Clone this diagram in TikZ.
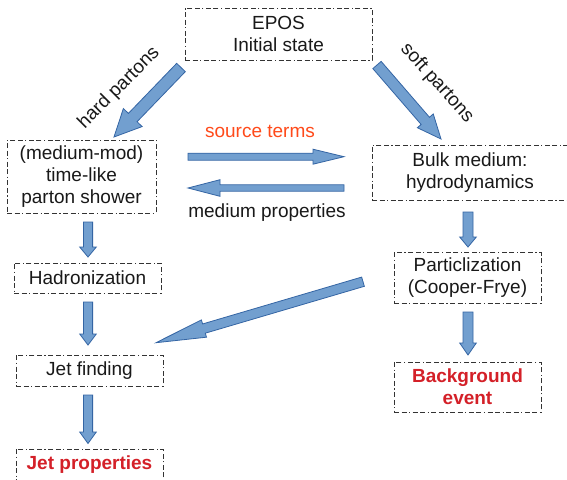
\documentclass[tikz,border=0pt]{standalone}
\usepackage{fontspec}
\setmainfont{Liberation Sans}
\usetikzlibrary{calc}
\definecolor{arrfill}{HTML}{729FCF}
\definecolor{arrline}{HTML}{3465A4}
\definecolor{boxline}{HTML}{333333}
\definecolor{redtxt}{HTML}{D42028}
\definecolor{srctxt}{HTML}{FF4A1A}
\tikzset{
  box/.style={draw=boxline, line width=0.9pt,
    dash pattern=on 5pt off 2.5pt on 5pt off 2.5pt on 1.2pt off 2.5pt,
    inner sep=0pt, align=center, text=black!90,
    font=\fontsize{19}{22}\selectfont},
  redbox/.style={box, text=redtxt, font=\fontsize{19}{22}\selectfont\bfseries},
  lbl/.style={inner sep=0pt, text=black!90, font=\fontsize{19}{22}\selectfont},
  blockarrowstyle/.style={fill=arrfill, draw=arrline, line width=0.8pt, line join=miter}
}
\newcommand\blockarrow[5]{%
  \coordinate (ba-h) at ($(#2)!#5!(#1)$);
  \draw[blockarrowstyle] ($(#1)!#3!90:(#2)$) -- ($(ba-h)!#3!90:(#2)$)
    -- ($(ba-h)!#4!90:(#2)$) -- (#2) -- ($(ba-h)!#4!-90:(#2)$)
    -- ($(ba-h)!#3!-90:(#2)$) -- ($(#1)!#3!-90:(#2)$) -- cycle;}
\begin{document}
\begin{tikzpicture}[x=1pt,y=-1pt]
\useasboundingbox[fill=white] (0,0) rectangle (567,479);
% boxes
\node[box, minimum width=187pt, minimum height=52pt] (epos) at (278.5,34) {EPOS\\Initial state};
\node[box, minimum width=149pt, minimum height=73pt] (shower) at (81.5,176.5) {(medium-mod)\\time-like\\parton shower};
\node[box, minimum width=196pt, minimum height=55pt] (bulk) at (470,172.5) {Bulk medium:\\hydrodynamics};
\node[box, minimum width=147pt, minimum height=30pt] (hadr) at (87.5,278) {Hadronization};
\node[box, minimum width=147pt, minimum height=31pt] (jetf) at (89.5,370.5) {Jet finding};
\node[redbox, minimum width=147pt, minimum height=31pt] (jetp) at (89.5,464.5) {Jet properties};
\node[box, minimum width=147pt, minimum height=50.5pt] (partic) at (467.5,278) {Particlization\\(Cooper-Frye)};
\node[redbox, minimum width=147pt, minimum height=50pt] (backg) at (467.5,387) {Background\\event};
% labels
\node[lbl, rotate=45] (hardlbl) at (119,88) {hard partons};
\node[lbl, rotate=-48] (softlbl) at (437,83) {soft partons};
\node[lbl, text=srctxt] (srclbl) at (260,131) {source terms};
\node[lbl] (medlbl) at (267,213) {medium properties};
% arrow end points
\coordinate (hardS) at (181,67.5);
\coordinate (hardE) at (114,137);
\coordinate (softS) at (377,65);
\coordinate (softE) at (441,139);
\coordinate (srcS) at (188,156.7);
\coordinate (srcE) at (344,156.7);
\coordinate (medS) at (344,188);
\coordinate (medE) at (188,188);
\coordinate (v1S) at (88,222);
\coordinate (v1E) at (88,257);
\coordinate (v2S) at (88,302);
\coordinate (v2E) at (88,345);
\coordinate (v3S) at (88,395);
\coordinate (v3E) at (88,443.5);
\coordinate (r1S) at (468,212);
\coordinate (r1E) at (468,247);
\coordinate (r2S) at (468,312);
\coordinate (r2E) at (468,355);
\coordinate (dS) at (363,281.7);
\coordinate (dE) at (156,342.7);
% block arrows
\blockarrow{hardS}{hardE}{6pt}{13pt}{27pt}
\blockarrow{softS}{softE}{5.5pt}{10.5pt}{24pt}
\blockarrow{srcS}{srcE}{3.5pt}{7.5pt}{31pt}
\blockarrow{medS}{medE}{3.2pt}{8.3pt}{32pt}
\blockarrow{v1S}{v1E}{4.6pt}{8.3pt}{10pt}
\blockarrow{v2S}{v2E}{4.6pt}{8.3pt}{11pt}
\blockarrow{v3S}{v3E}{4.6pt}{8.3pt}{11.5pt}
\blockarrow{r1S}{r1E}{5pt}{8.3pt}{10pt}
\blockarrow{r2S}{r2E}{5pt}{8.3pt}{12pt}
\blockarrow{dS}{dE}{4.8pt}{9pt}{50pt}
\end{tikzpicture}
\end{document}
